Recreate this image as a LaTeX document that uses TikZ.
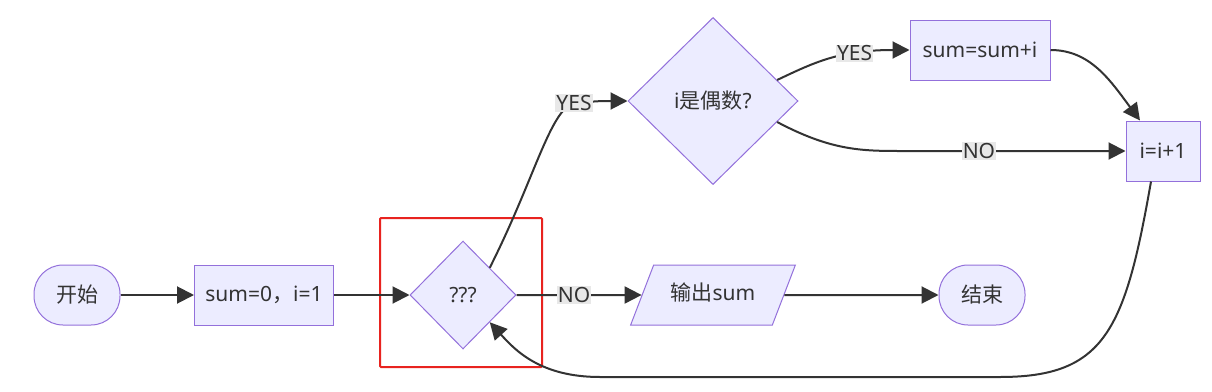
\documentclass[tikz,border=0pt]{standalone}
\usepackage{fontspec}
\setmainfont{Noto Sans}
\newfontfamily\cjk{Noto Sans CJK SC}
\usepackage{tikz}
\usetikzlibrary{positioning, arrows.meta, shapes.geometric, calc}
\definecolor{nodeFill} {HTML}{ECECFF}
\definecolor{nodeLine} {HTML}{9370DB}
\definecolor{edgeInk}  {HTML}{333333}
\definecolor{labelBg}  {HTML}{E8E8E8}
\definecolor{hiliteRed}{HTML}{E8231F}
\newcommand{\fsz}{\fontsize{21}{25}\selectfont}
\tikzset{
  box/.style={draw=nodeLine, fill=nodeFill, line width=1pt, text=edgeInk, font=\fsz, inner sep=0pt},
  termbox/.style={box, rectangle, rounded corners=29pt, minimum width=86pt, minimum height=60pt},
  procbox/.style={box, rectangle, minimum height=60pt},
  decide/.style={box, diamond},
  iobox/.style={box, trapezium, trapezium left angle=69, trapezium right angle=111,
    text height=16pt, text depth=5pt, inner ysep=19.5pt, inner xsep=17pt},
  flow/.style={draw=edgeInk, line width=2pt, -{Triangle[length=17pt,width=17pt]}},
  edgelbl/.style={fill=labelBg, text=edgeInk, font=\fsz, inner sep=1pt},
}

\begin{document}
\begin{tikzpicture}[x=1pt, y=-1pt]
        \useasboundingbox (0,0) rectangle (1212,391);
        \node[termbox] (start) at (77,295) {{\cjk 开始}};
        \node[procbox, minimum width=139pt] (init) at (264,295) {sum=0{\cjk ，}i=1};
        \node[decide, minimum width=106pt, minimum height=108pt] (check) at (463,295) {???};
        \node[iobox] (output) at (713,295) {{\cjk 输出}sum};
        \node[termbox] (stop) at (982,295) {{\cjk 结束}};
        \node[decide, minimum width=170pt, minimum height=167pt] (even) at (713,101) {i{\cjk 是偶数}?};
        \node[procbox, minimum width=140pt] (addsum) at (980,50) {sum=sum+i};
        \node[procbox, minimum width=74pt] (incr) at (1163,151) {i=i+1};
        \draw[hiliteRed, line width=2pt, rounded corners=1pt] (380,218) rectangle (542,367);
        \draw[flow] (start) -- (init);
        \draw[flow] (init) -- (check);
        \draw[flow] (check.east) -- node[edgelbl, pos=0.46]{NO} (output);
        \draw[flow] (output) -- (stop);
        \draw[flow] (check.north east) .. controls (535,178) and (550,110) .. (574,103)
          node[edgelbl]{YES} .. controls (600,101) .. (even.west);
        \draw[flow] ($(even.east)!0.25!(even.north)$) .. controls (815,62) and (840,50)
          .. node[edgelbl, pos=0.68]{YES} (addsum.west);
        \draw[flow] ($(even.east)!0.25!(even.south)$) .. controls (830,150) and (860,151)
          .. (900,151) -- node[edgelbl, pos=0.35]{NO} (incr.west);
        \draw[flow] (addsum.east) .. controls (1090,50) and (1110,80) .. ([xshift=-23pt]incr.north);
        \draw[flow] ([xshift=-12pt]incr.south) .. controls (1125,330) and (1105,377) .. (1000,377)
          -- (600,377) .. controls (540,377) and (515,350) .. (check.south east);
\end{tikzpicture}
\end{document}
